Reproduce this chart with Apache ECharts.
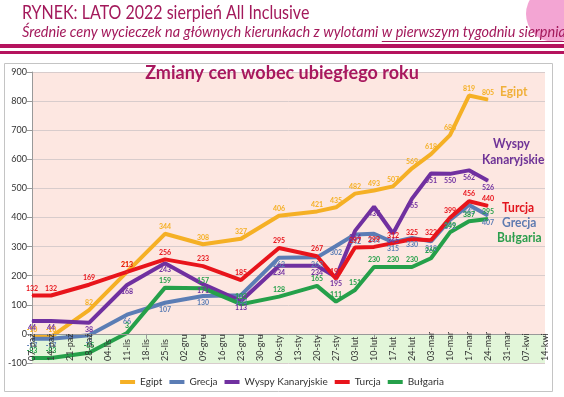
<!DOCTYPE html>
<html>
<head>
<meta charset="utf-8">
<script src="https://cdn.jsdelivr.net/npm/echarts@6/dist/echarts.min.js"></script>
<style>
  html, body { margin: 0; padding: 0; background: #fff; }
  #chart { width: 564px; height: 397px; }
</style>
</head>
<body>
<div id="chart"></div>
<script>
// kategorie (tygodnie wylotu)
var weeks = ['07-paź', '14-paź', '21-paź', '28-paź', '04-lis', '11-lis', '18-lis', '25-lis',
    '02-gru', '09-gru', '16-gru', '23-gru', '30-gru', '06-sty', '13-sty', '20-sty', '27-sty',
    '03-lut', '10-lut', '17-lut', '24-lut', '03-mar', '10-mar', '17-mar', '24-mar', '31-mar',
    '07-kwi', '14-kwi'];

// zmiany cen wobec ubiegłego roku (null = brak pomiaru)
var egipt = [-10, -10, null, 82, null, 213, null, 344, null, 308, null, 327, null, 406, null,
    421, 435, 482, 493, 507, 569, 618, 683, 819, 805];
var grecja = [-17, -17, null, -5, null, 66, null, 107, null, 130, null, 133, null, 262, null,
    263, 302, 342, 344, 315, 330, 318, 392, 443, 407];
var wyspy = [44, 44, null, 38, null, 168, null, 243, null, 171, null, 113, null, 234, null,
    234, 195, 354, 437, 345, 465, 551, 550, 562, 526];
var turcja = [132, 132, null, 169, null, 213, null, 256, null, 233, null, 185, null, 295, null,
    267, 190, 297, 299, 312, 325, 322, 399, 456, 440];
var bulgaria = [-83, -83, null, -65, null, 3, null, 159, null, 157, null, 102, null, 128, null,
    165, 111, 151, 230, 230, 230, 260, 349, 387, 395];

var yMin = -100, yMax = 900, yStep = 100;

var colors = {
    egipt: '#f5b025',
    grecja: '#5b7db5',
    wyspy: '#7030a0',
    turcja: '#e8141b',
    bulgaria: '#25a04a'
};

var myChart = echarts.init(document.getElementById('chart'));

// szerokość tekstu - do podkreślenia części podtytułu
function textWidth(txt, font) {
    var ctx = document.createElement('canvas').getContext('2d');
    ctx.font = font;
    return ctx.measureText(txt).width;
}
var subFont = 'italic 14.5px Lato';
var subA = 'Średnie ceny wycieczek na głównych kierunkach z wylotami ';
var subB = 'w pierwszym tygodniu sierpnia';
var subX = 22;
var wA = textWidth(subA, subFont);
var wB = textWidth(subB, subFont);

function makeSeries(name, data, color, pos) {
    return {
        name: name,
        type: 'line',
        data: data,
        connectNulls: true,
        symbol: 'circle',
        symbolSize: 1,
        showSymbol: true,
        lineStyle: { width: 4, color: color },
        itemStyle: { color: color },
        label: {
            show: true,
            position: pos,
            distance: 3,
            fontSize: 7,
            fontWeight: 'bold',
            fontFamily: 'Lato',
            color: color
        }
    };
}

var sEgipt = makeSeries('Egipt', egipt, colors.egipt, 'top');
// zielony pas pod zerem
sEgipt.markArea = {
    silent: true,
    data: [
        [{ yAxis: yMin, itemStyle: { color: '#e2f6d9' } }, { yAxis: 0 }]
    ]
};

function txt(x, y, s, font, fill, sx) {
    return { type: 'text', x: x, y: y, z: 100, scaleX: sx || 1,
        style: { text: s, font: font, fill: fill } };
}

myChart.setOption({
    backgroundColor: '#fff',
    animation: false,
    textStyle: { fontFamily: 'Lato' },
    title: {
        text: 'Zmiany cen wobec ubiegłego roku',
        left: 'center',
        top: 59,
        z: 100,
        textStyle: { color: '#a8185e', fontSize: 18, fontWeight: 'bold', fontFamily: 'Lato' }
    },
    grid: [
        { left: 32, right: 19, top: 72, bottom: 34, show: true, backgroundColor: '#fde7e1', borderWidth: 0 },
        // pas z etykietami tygodni (od zera do -100)
        { left: 32, right: 19, top: 334, bottom: 34, show: false }
    ],
    legend: {
        bottom: 5,
        left: 'center',
        icon: 'rect',
        itemWidth: 15,
        itemHeight: 4,
        itemGap: 7,
        textStyle: { fontSize: 10, color: '#333', fontFamily: 'Lato' },
        data: ['Egipt', 'Grecja', 'Wyspy Kanaryjskie', 'Turcja', 'Bułgaria']
    },
    xAxis: [
        {
            type: 'category',
            boundaryGap: false,
            data: weeks,
            z: 5,
            axisLine: { onZero: true, lineStyle: { color: '#999' } },
            axisTick: { show: true, lineStyle: { color: '#999' } },
            axisLabel: { show: false }
        },
        {
            type: 'category',
            gridIndex: 1,
            boundaryGap: false,
            data: weeks,
            position: 'bottom',
            z: 5,
            axisLine: { show: false },
            axisTick: { show: false },
            splitLine: { show: false },
            axisLabel: { inside: true, rotate: 90, fontSize: 9, color: '#333', margin: 2, interval: 0 }
        }
    ],
    yAxis: [
        {
            type: 'value',
            min: yMin,
            max: yMax,
            interval: yStep,
            axisLine: { show: true, lineStyle: { color: '#999' } },
            axisTick: { show: true, lineStyle: { color: '#999' } },
            axisLabel: { fontSize: 9, color: '#333', margin: 5 },
            splitLine: { lineStyle: { color: '#d8cccc' } }
        },
        { type: 'value', gridIndex: 1, min: 0, max: 1, show: false }
    ],
    graphic: [
        { type: 'circle', z: 100, shape: { cx: 554, cy: 14, r: 28 }, style: { fill: '#f3a5d3' } },
        txt(22, 3, 'RYNEK: LATO 2022 sierpień All Inclusive', '20px Lato', '#a3195b', 0.8),
        txt(subX, 25, subA, subFont, '#a3195b'),
        txt(subX + wA, 25, subB, subFont, '#a3195b'),
        { type: 'line', z: 100, shape: { x1: subX + wA, y1: 41.5, x2: subX + wA + wB, y2: 41.5 },
            style: { stroke: '#a3195b', lineWidth: 1 } },
        { type: 'rect', z: 100, shape: { x: 0, y: 44, width: 564, height: 4 }, style: { fill: '#b5135e' } },
        { type: 'rect', z: 100, shape: { x: 0, y: 51, width: 564, height: 3 }, style: { fill: '#b5135e' } },
        { type: 'rect', z: 100, shape: { x: 4.5, y: 63.5, width: 548, height: 328 },
            style: { fill: 'none', stroke: '#c4c4c4', lineWidth: 1 } },
        txt(500, 84, 'Egipt', 'bold 14px Lato', '#f0b03a', 0.86),
        txt(493, 136, 'Wyspy', 'bold 14px Lato', '#6f3397', 0.86),
        txt(482, 152, 'Kanaryjskie', 'bold 14px Lato', '#6f3397', 0.86),
        txt(502, 200, 'Turcja', 'bold 14px Lato', '#e2141d', 0.86),
        txt(502, 215, 'Grecja', 'bold 14px Lato', '#5f7bb0', 0.86),
        txt(497, 230, 'Bułgaria', 'bold 14px Lato', '#2c9e4d', 0.86)
    ],
    series: [
        sEgipt,
        makeSeries('Grecja', grecja, colors.grecja, 'bottom'),
        makeSeries('Wyspy Kanaryjskie', wyspy, colors.wyspy, 'bottom'),
        makeSeries('Turcja', turcja, colors.turcja, 'top'),
        makeSeries('Bułgaria', bulgaria, colors.bulgaria, 'top')
    ]
});
</script>
</body>
</html>
